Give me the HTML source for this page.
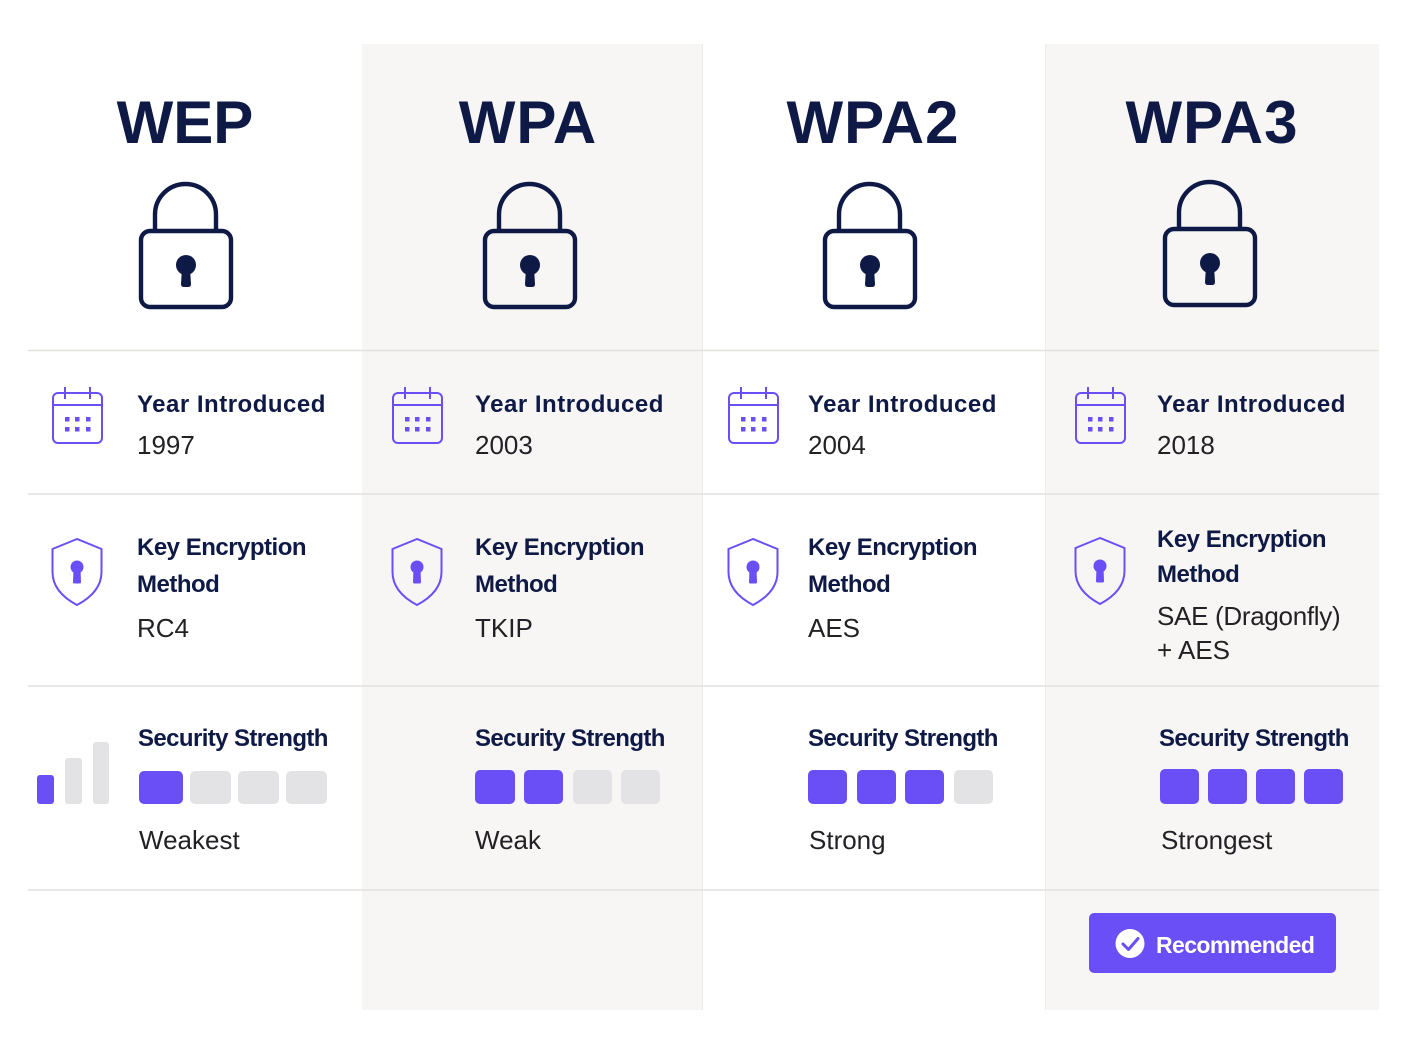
<!DOCTYPE html>
<html>
<head>
<meta charset="utf-8">
<style>
  html,body{margin:0;padding:0;background:#ffffff;}
  svg{display:block;}
  .t{font-family:"Liberation Sans",sans-serif;font-weight:bold;fill:#0e1a45;}
  .h{font-family:"Liberation Sans",sans-serif;font-weight:bold;fill:#0e1a45;font-size:24px;}
  .y{letter-spacing:0.5px;}
  .k{letter-spacing:-0.5px;}
  .v{font-family:"Liberation Sans",sans-serif;font-weight:normal;fill:#222226;font-size:26px;}
</style>
</head>
<body>
<svg width="1408" height="1056" viewBox="0 0 1408 1056" xmlns="http://www.w3.org/2000/svg">
  <defs>
    <g id="lock">
      <path d="M155 231 V214.5 A30.5 30.5 0 0 1 216 214.5 V231" fill="none" stroke="#0e1a45" stroke-width="4.4"/>
      <rect x="141" y="231" width="90" height="76" rx="9" fill="none" stroke="#0e1a45" stroke-width="4.4"/>
      <circle cx="186" cy="265" r="10" fill="#0e1a45"/>
      <path d="M182 268 L190 268 L191 284 Q191 287 188 287 L184 287 Q181 287 181 284 Z" fill="#0e1a45"/>
    </g>
    <g id="cal">
      <rect x="1" y="6" width="49" height="50" rx="5" fill="none" stroke="#6a4ff6" stroke-width="2"/>
      <line x1="1" y1="18" x2="50" y2="18" stroke="#6a4ff6" stroke-width="2"/>
      <line x1="13" y1="0" x2="13" y2="12" stroke="#6a4ff6" stroke-width="2"/>
      <line x1="38" y1="0" x2="38" y2="12" stroke="#6a4ff6" stroke-width="2"/>
      <rect x="13" y="30" width="4.5" height="4.5" fill="#6a4ff6"/>
      <rect x="23" y="30" width="4.5" height="4.5" fill="#6a4ff6"/>
      <rect x="34" y="30" width="4.5" height="4.5" fill="#6a4ff6"/>
      <rect x="13" y="40" width="4.5" height="4.5" fill="#6a4ff6"/>
      <rect x="23" y="40" width="4.5" height="4.5" fill="#6a4ff6"/>
      <rect x="34" y="40" width="4.5" height="4.5" fill="#6a4ff6"/>
    </g>
    <g id="shield">
      <path d="M25 1 L0.5 11 L0.5 34 Q0.5 54 25 67 Q49.5 54 49.5 34 L49.5 11 Z" fill="none" stroke="#6a4ff6" stroke-width="2"/>
      <circle cx="25" cy="29" r="6.5" fill="#6a4ff6"/>
      <path d="M21.5 31 L28.5 31 L29 44 Q29 45.5 27.5 45.5 L22.5 45.5 Q21 45.5 21 44 Z" fill="#6a4ff6"/>
    </g>
  </defs>

  <!-- gray columns -->
  <rect x="362" y="44" width="341" height="966" fill="#f7f6f4"/>
  <rect x="1045" y="44" width="334" height="966" fill="#f7f6f4"/>
  <line x1="702.5" y1="44" x2="702.5" y2="1010" stroke="#eceae7" stroke-width="1"/>
  <line x1="1045.5" y1="44" x2="1045.5" y2="1010" stroke="#f0eeeb" stroke-width="1"/>

  <!-- horizontal separators -->
  <line x1="28" y1="350.5" x2="1379" y2="350.5" stroke="#e3e1de" stroke-width="1.5"/>
  <line x1="28" y1="494" x2="1379" y2="494" stroke="#e3e1de" stroke-width="1.5"/>
  <line x1="28" y1="686" x2="1379" y2="686" stroke="#e3e1de" stroke-width="1.5"/>
  <line x1="28" y1="890" x2="1379" y2="890" stroke="#e3e1de" stroke-width="1.5"/>

  <!-- titles -->
  <text class="t" x="185" y="143" font-size="60" text-anchor="middle">WEP</text>
  <text class="t" x="528" y="143" font-size="60" text-anchor="middle" letter-spacing="1">WPA</text>
  <text class="t" x="873" y="143" font-size="60" text-anchor="middle" letter-spacing="1">WPA2</text>
  <text class="t" x="1212" y="143" font-size="60" text-anchor="middle" letter-spacing="1">WPA3</text>

  <!-- locks -->
  <use href="#lock" x="0" y="0"/>
  <use href="#lock" x="344" y="0"/>
  <use href="#lock" x="684" y="0"/>
  <use href="#lock" x="1024" y="-2"/>

  <!-- Row 1: Year -->
  <use href="#cal" x="52" y="387"/>
  <use href="#cal" x="392" y="387"/>
  <use href="#cal" x="728" y="387"/>
  <use href="#cal" x="1075" y="387"/>

  <text class="h y" x="137" y="412">Year Introduced</text>
  <text class="v" x="137" y="454">1997</text>
  <text class="h y" x="475" y="412">Year Introduced</text>
  <text class="v" x="475" y="454">2003</text>
  <text class="h y" x="808" y="412">Year Introduced</text>
  <text class="v" x="808" y="454">2004</text>
  <text class="h y" x="1157" y="412">Year Introduced</text>
  <text class="v" x="1157" y="454">2018</text>

  <!-- Row 2: Key Encryption -->
  <use href="#shield" x="52" y="538"/>
  <use href="#shield" x="392" y="538"/>
  <use href="#shield" x="728" y="538"/>
  <use href="#shield" x="1075" y="537"/>

  <text class="h k" x="137" y="555">Key Encryption</text>
  <text class="h k" x="137" y="592">Method</text>
  <text class="v" x="137" y="637">RC4</text>

  <text class="h k" x="475" y="555">Key Encryption</text>
  <text class="h k" x="475" y="592">Method</text>
  <text class="v" x="475" y="637">TKIP</text>

  <text class="h k" x="808" y="555">Key Encryption</text>
  <text class="h k" x="808" y="592">Method</text>
  <text class="v" x="808" y="637">AES</text>

  <text class="h k" x="1157" y="547">Key Encryption</text>
  <text class="h k" x="1157" y="582">Method</text>
  <text class="v" x="1157" y="625" letter-spacing="-0.3">SAE (Dragonfly)</text>
  <text class="v" x="1157" y="659">+ AES</text>

  <!-- Row 3: Security Strength -->
  <rect x="37" y="775" width="17" height="29" rx="3" fill="#6a4ff6"/>
  <rect x="65" y="758" width="17" height="46" rx="3" fill="#e3e3e6"/>
  <rect x="93" y="742" width="16" height="62" rx="3" fill="#e3e3e6"/>

  <text class="h" x="138" y="746" letter-spacing="-0.6">Security Strength</text>
  <rect x="139" y="771" width="44" height="33" rx="5" fill="#6a4ff6"/>
  <rect x="190" y="771" width="41" height="33" rx="5" fill="#e3e3e6"/>
  <rect x="238" y="771" width="41" height="33" rx="5" fill="#e3e3e6"/>
  <rect x="286" y="771" width="41" height="33" rx="5" fill="#e3e3e6"/>
  <text class="v" x="139" y="849">Weakest</text>

  <text class="h" x="475" y="746" letter-spacing="-0.6">Security Strength</text>
  <rect x="475" y="770" width="40" height="34" rx="5" fill="#6a4ff6"/>
  <rect x="524" y="770" width="39" height="34" rx="5" fill="#6a4ff6"/>
  <rect x="573" y="770" width="39" height="34" rx="5" fill="#e3e3e6"/>
  <rect x="621" y="770" width="39" height="34" rx="5" fill="#e3e3e6"/>
  <text class="v" x="475" y="849">Weak</text>

  <text class="h" x="808" y="746" letter-spacing="-0.6">Security Strength</text>
  <rect x="808" y="770" width="39" height="34" rx="5" fill="#6a4ff6"/>
  <rect x="857" y="770" width="39" height="34" rx="5" fill="#6a4ff6"/>
  <rect x="905" y="770" width="39" height="34" rx="5" fill="#6a4ff6"/>
  <rect x="954" y="770" width="39" height="34" rx="5" fill="#e3e3e6"/>
  <text class="v" x="809" y="849">Strong</text>

  <text class="h" x="1159" y="746" letter-spacing="-0.6">Security Strength</text>
  <rect x="1160" y="769" width="39" height="35" rx="5" fill="#6a4ff6"/>
  <rect x="1208" y="769" width="39" height="35" rx="5" fill="#6a4ff6"/>
  <rect x="1256" y="769" width="39" height="35" rx="5" fill="#6a4ff6"/>
  <rect x="1304" y="769" width="39" height="35" rx="5" fill="#6a4ff6"/>
  <text class="v" x="1161" y="849">Strongest</text>

  <!-- Recommended button -->
  <rect x="1089" y="913" width="247" height="60" rx="5" fill="#6a4ff6"/>
  <circle cx="1130" cy="943.5" r="14.5" fill="#ffffff"/>
  <path d="M1123 944 L1128.5 949.5 L1138 938.5" fill="none" stroke="#6a4ff6" stroke-width="3" stroke-linecap="round" stroke-linejoin="round"/>
  <text x="1156" y="953" font-family="Liberation Sans, sans-serif" font-weight="bold" font-size="23" fill="#ffffff" letter-spacing="-0.6">Recommended</text>
</svg>
</body>
</html>
